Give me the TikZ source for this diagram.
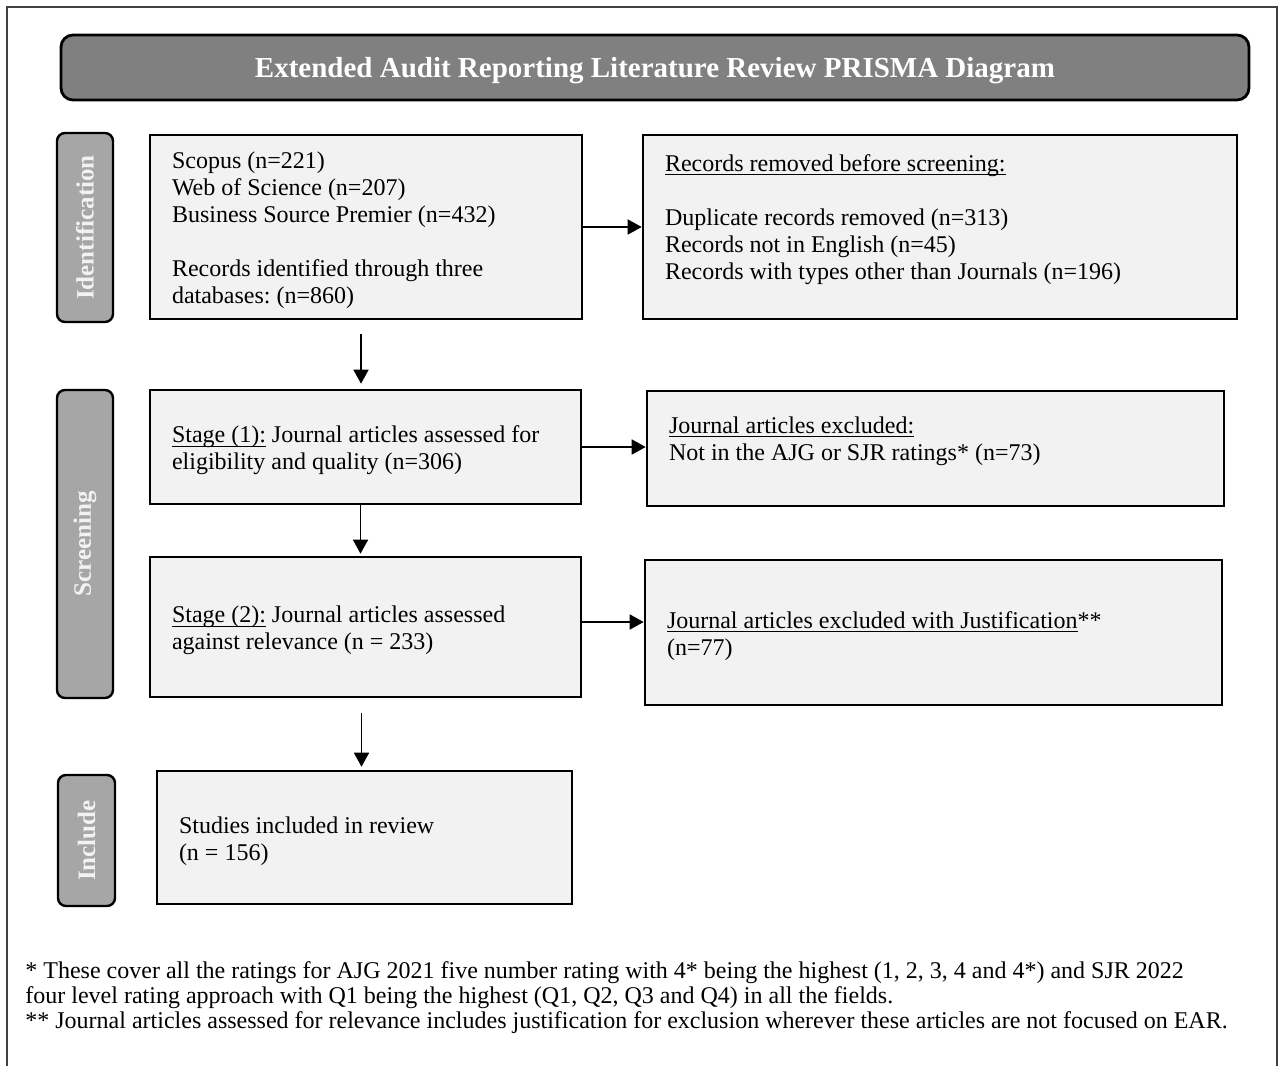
\documentclass[tikz,border=0pt]{standalone}
\usepackage{fontspec}
\setmainfont{Liberation Serif}
\usetikzlibrary{arrows.meta}
\definecolor{boxfill}{gray}{0.949}
\definecolor{bannerfill}{gray}{0.5}
\definecolor{phasefill}{gray}{0.65}
\definecolor{phasetext}{gray}{0.95}
\newcommand{\uword}[1]{\setbox0\hbox{#1}\rlap{\rule[-1.9pt]{\wd0}{0.6pt}}\box0\relax}

\begin{document}
\frenchspacing
\begin{tikzpicture}[x=0.5pt, y=-0.5pt,
  box/.style={draw, line width=1.3pt, fill=boxfill, align=flush left, inner xsep=11pt, inner ysep=0pt, text height=12pt, font=\fontsize{12}{13.5}\selectfont},
  phase/.style={draw, line width=1.2pt, fill=phasefill, rounded corners=4pt, rotate=90, inner sep=0pt, text=phasetext, font=\fontsize{12.5}{14}\selectfont\bfseries},
  arr/.style={line width=0.8pt, -{Triangle[length=7pt, width=7.5pt]}}]

\useasboundingbox (0,0) rectangle (1279,1066);
\draw[black!75, line width=0.6pt] (7,1066) -- (7,7) -- (1277,7) -- (1277,1066);

\node (title) [draw, line width=1.4pt, fill=bannerfill, rounded corners=6pt, minimum width=594pt, minimum height=32.5pt, text depth=0pt, text=white, font=\fontsize{14.5}{16}\selectfont\bfseries] at (655,67.5) {Extended Audit Reporting Literature Review PRISMA Diagram};

\node (ident) [phase, minimum width=94.5pt, minimum height=28pt] at (85,227.5) {Identification};
\node (screen) [phase, minimum width=154pt, minimum height=28pt] at (85,544) {Screening};
\node (incl) [phase, minimum width=65.5pt, minimum height=28.5pt] at (86.5,840.5) {Include};

\node (src) [box, minimum width=216pt, minimum height=92pt, text width=194pt] at (366,227) {Scopus (n=221)\\ Web of Science (n=207)\\ Business Source Premier (n=432)\\[13.5pt] Records identified through three\\ databases: (n=860)};
\node (removed) [box, minimum width=297pt, minimum height=92pt, text width=275pt] at (940,227) {\uword{Records removed before screening:}\\[13.5pt] Duplicate records removed (n=313)\\ Records not in English (n=45)\\ Records with types other than Journals (n=196)\\ \mbox{}};

\node (stage1) [box, minimum width=215.5pt, minimum height=57pt, text width=193.5pt] at (365.5,447) {\uword{Stage (1):} Journal articles assessed for\\ eligibility and quality (n=306)};
\node (excl1) [box, minimum width=288.5pt, minimum height=57.5pt, text width=266.5pt] at (935.5,448.5) {\uword{Journal articles excluded:}\\ Not in the AJG or SJR ratings* (n=73)\\ \mbox{}};

\node (stage2) [box, minimum width=215.5pt, minimum height=70pt, text width=193.5pt] at (365.5,627) {\uword{Stage (2):} Journal articles assessed\\ against relevance (n = 233)};
\node (excl2) [box, minimum width=288.5pt, minimum height=72.5pt, text width=266.5pt] at (933.5,632.5) {\uword{Journal articles excluded with Justification}**\\ (n=77)};

\node (studies) [box, minimum width=207.5pt, minimum height=66.5pt, text width=185.5pt] at (364.5,837.5) {Studies included in review\\ (n = 156)};

\node (notes) [anchor=base west, inner sep=0pt, text width=625pt, align=flush left, font=\fontsize{12}{12.5}\selectfont] at (25,978) {* These cover all the ratings for AJG 2021 five number rating with 4* being the highest (1, 2, 3, 4 and 4*) and SJR 2022\\ four level rating approach with Q1 being the highest (Q1, Q2, Q3 and Q4) in all the fields.\\ {}** Journal articles assessed for relevance includes justification for exclusion wherever these articles are not focused on EAR.};

\draw[arr] (src.east) -- (removed.west);
\draw[arr] (stage1.east) -- (stage1.east -| excl1.west);
\draw[arr] ([yshift=2.5pt]stage2.east) -- ([yshift=2.5pt]stage2.east -| excl2.west);

\draw[arr, shorten <=7pt, shorten >=2.5pt] ([xshift=-2.5pt]src.south) -- ([xshift=-2.5pt]src.south |- stage1.north);
\draw[arr, shorten >=1pt] ([xshift=-2.5pt]stage1.south) -- ([xshift=-2.5pt]stage1.south |- stage2.north);
\draw[arr, shorten <=7.5pt, shorten >=1.5pt] ([xshift=-2pt]stage2.south) -- ([xshift=-2pt]stage2.south |- studies.north);
\end{tikzpicture}
\end{document}
